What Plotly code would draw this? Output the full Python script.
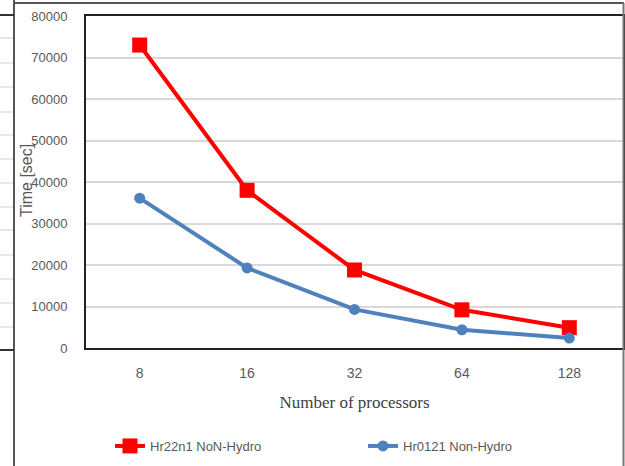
import plotly.graph_objects as go

processors = ["8", "16", "32", "64", "128"]
hr22n1 = [73000, 38000, 18800, 9200, 4900]
hr0121 = [36100, 19300, 9300, 4400, 2400]
y_ticks = [0, 10000, 20000, 30000, 40000, 50000, 60000, 70000, 80000]

W, H = 625, 466
L, R, T, B = 86, 2, 16, 118
pw, ph = W - L - R, H - T - B

def px(x):
    return (x - L) / pw

def py(y):
    return (H - B - y) / ph

fig = go.Figure()
fig.add_trace(go.Scatter(
    x=processors, y=hr22n1, name="Hr22n1 NoN-Hydro", mode="lines+markers",
    line=dict(color="#FF0000", width=4),
    marker=dict(symbol="square", size=15, color="#FF0000"),
    legend="legend",
))
fig.add_trace(go.Scatter(
    x=processors, y=hr0121, name="Hr0121 Non-Hydro", mode="lines+markers",
    line=dict(color="#4F81BD", width=4),
    marker=dict(symbol="circle", size=11, color="#4F81BD"),
    legend="legend2",
))

shapes = []
shapes.append(dict(type="line", xref="paper", yref="paper", x0=px(14), x1=px(14), y0=py(0), y1=py(466),
                   line=dict(color="#555555", width=2)))
shapes.append(dict(type="line", xref="paper", yref="paper", x0=px(14), x1=px(624), y0=py(3), y1=py(3),
                   line=dict(color="#555555", width=2)))
shapes.append(dict(type="line", xref="paper", yref="paper", x0=px(623.5), x1=px(623.5), y0=py(3), y1=py(466),
                   line=dict(color="#777777", width=2)))
shapes.append(dict(type="line", xref="paper", yref="paper", x0=px(0), x1=px(14), y0=py(15), y1=py(15),
                   line=dict(color="#333333", width=2)))
shapes.append(dict(type="line", xref="paper", yref="paper", x0=px(0), x1=px(14), y0=py(350), y1=py(350),
                   line=dict(color="#333333", width=2)))
for yy in [38, 63, 87, 112, 135, 159, 183, 207, 230, 255, 279, 303, 327]:
    shapes.append(dict(type="line", xref="paper", yref="paper", x0=px(0), x1=px(13), y0=py(yy), y1=py(yy),
                       line=dict(color="#d0d0d0", width=1)))

legend_common = dict(orientation="h", yanchor="middle", y=py(446), xanchor="left",
                     font=dict(size=13, color="#595959"), itemwidth=30,
                     bgcolor="rgba(0,0,0,0)", borderwidth=0)

fig.update_layout(
    width=W, height=H,
    margin=dict(l=L, r=R, t=T, b=B, pad=0, autoexpand=False),
    paper_bgcolor="white", plot_bgcolor="white",
    font=dict(family="Liberation Sans, Arial, sans-serif", color="#595959", size=13),
    showlegend=True,
    legend=dict(x=px(110), **legend_common),
    legend2=dict(x=px(363), **legend_common),
    shapes=shapes,
    annotations=[dict(text="Time [sec]", xref="paper", yref="paper", x=px(26), y=py(181),
                      xanchor="center", yanchor="middle", textangle=-90, showarrow=False,
                      font=dict(size=16, color="#595959"))],
    xaxis=dict(
        type="category", range=[-0.5, 4.5], showgrid=False,
        showline=True, linecolor="#222222", linewidth=2, mirror=True,
        ticks="", ticklabelstandoff=11,
        tickfont=dict(size=14, color="#595959"),
        title=dict(text="Number of processors", standoff=16,
                   font=dict(family="Liberation Serif, Times New Roman, serif", size=17, color="#404040")),
    ),
    yaxis=dict(
        range=[0, 80000], tickvals=y_ticks, tickformat="d", showgrid=True, gridcolor="#d9d9d9", gridwidth=1.5,
        showline=True, linecolor="#222222", linewidth=2, mirror=True,
        ticks="", ticklabelstandoff=14, zeroline=False,
        tickfont=dict(size=13, color="#595959"),
    ),
)

fig.write_html("out.html")
